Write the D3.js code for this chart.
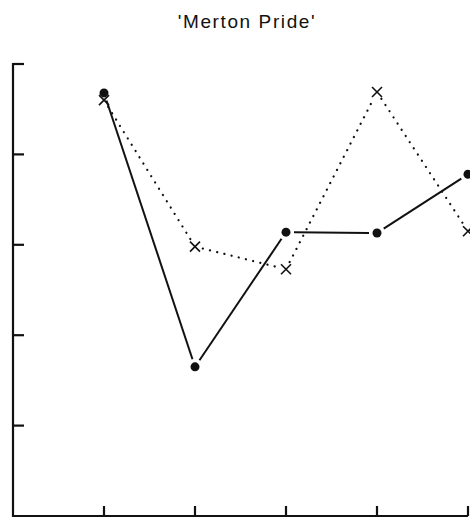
<!DOCTYPE html>
<html>
<head>
<meta charset="utf-8">
<script src="https://cdn.jsdelivr.net/npm/d3@7"></script>
<style>
  html, body { margin:0; padding:0; background:#fff; }
  svg { display:block; }
  text { font-family: "Liberation Sans", Arial, sans-serif; fill:#111; }
</style>
</head>
<body>
<svg id="chart" width="470" height="518"></svg>
<script>
// data
const title = "'Merton Pride'";
const positions = [1, 2, 3, 4, 5];
const solidSeries = [4.68, 1.65, 3.14, 3.13, 3.78];
const dottedSeries = [4.60, 2.98, 2.73, 4.69, 3.15];
const yTicks = [0, 1, 2, 3, 4, 5];
const xTicks = [1, 2, 3, 4, 5];

const svg = d3.select("#chart");
const W = 470, H = 518;
const m = { left:13, right:2, top:64, bottom:2 };

const x = d3.scaleLinear().domain([0, 5]).range([m.left, W - m.right]);
const y = d3.scaleLinear().domain([0, 5]).range([H - m.bottom, m.top]);

svg.append("text").attr("x", 247).attr("y", 28).attr("text-anchor","middle")
  .style("font-size","19px").style("letter-spacing","1.6px").text(title);

// axes
const axes = svg.append("g").attr("stroke","#111").attr("stroke-width",2.2).attr("fill","none");
axes.append("line").attr("x1", x(0)).attr("x2", x(0)).attr("y1", y(5) - 1).attr("y2", y(0) + 1);
axes.append("line").attr("x1", x(0) - 1).attr("x2", x(5)).attr("y1", y(0)).attr("y2", y(0));
axes.selectAll("line.yt").data(yTicks.slice(1)).enter().append("line").attr("class","yt")
  .attr("x1", x(0)).attr("x2", x(0) + 11).attr("y1", d => y(d)).attr("y2", d => y(d));
axes.selectAll("line.xt").data(xTicks).enter().append("line").attr("class","xt")
  .attr("x1", d => x(d)).attr("x2", d => x(d)).attr("y1", y(0)).attr("y2", y(0) - 10);

// segments with small gaps at the markers, like the original plot
function segs(vals, gap){
  const pts = positions.map((p, i) => [x(p), y(vals[i])]);
  return d3.pairs(pts).map(([a, b]) => {
    const dx = b[0]-a[0], dy = b[1]-a[1], L = Math.hypot(dx, dy);
    const ux = dx/L, uy = dy/L;
    return [a[0]+ux*gap, a[1]+uy*gap, b[0]-ux*gap, b[1]-uy*gap];
  });
}

svg.append("g").selectAll("line").data(segs(dottedSeries, 8)).enter().append("line")
  .attr("x1", d => d[0]).attr("y1", d => d[1]).attr("x2", d => d[2]).attr("y2", d => d[3])
  .attr("stroke","#111").attr("stroke-width",2.2).attr("stroke-linecap","round")
  .attr("stroke-dasharray","0.1,7.3");

svg.append("g").selectAll("line").data(segs(solidSeries, 8)).enter().append("line")
  .attr("x1", d => d[0]).attr("y1", d => d[1]).attr("x2", d => d[2]).attr("y2", d => d[3])
  .attr("stroke","#111").attr("stroke-width",2);

// x markers
const cross = svg.append("g").attr("stroke","#111").attr("stroke-width",1.6);
positions.forEach((p, i) => {
  const cx = x(p), cy = y(dottedSeries[i]), s = 5;
  cross.append("line").attr("x1", cx-s).attr("y1", cy-s).attr("x2", cx+s).attr("y2", cy+s);
  cross.append("line").attr("x1", cx-s).attr("y1", cy+s).attr("x2", cx+s).attr("y2", cy-s);
});

svg.append("g").selectAll("circle").data(solidSeries).enter().append("circle")
  .attr("cx", (d, i) => x(positions[i])).attr("cy", d => y(d)).attr("r", 4.5).attr("fill","#111");
</script>
</body>
</html>
